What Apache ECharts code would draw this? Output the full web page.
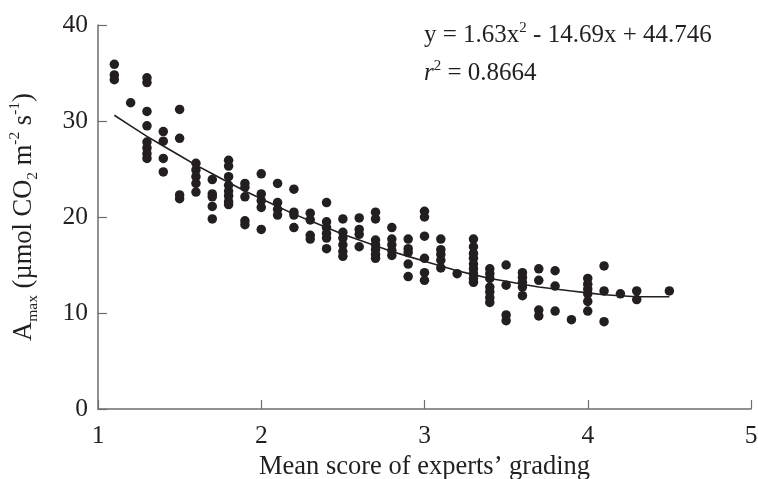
<!DOCTYPE html>
<html>
<head>
<meta charset="utf-8">
<script src="https://cdn.jsdelivr.net/npm/echarts@6/dist/echarts.min.js"></script>
<style>
html,body{margin:0;padding:0;background:#fff;}
#chart{width:758px;height:479px;}
</style>
</head>
<body>
<div id="chart"></div>
<script>
// Mean score of experts' grading (x) levels
var scoreLevels = [1.1, 1.2, 1.3, 1.4, 1.5, 1.6, 1.7, 1.8, 1.9, 2.0,
                   2.1, 2.2, 2.3, 2.4, 2.5, 2.6, 2.7, 2.8, 2.9, 3.0,
                   3.1, 3.2, 3.3, 3.4, 3.5, 3.6, 3.7, 3.8, 3.9, 4.0,
                   4.1, 4.2, 4.3, 4.5];
// Amax observations at each score level
var amaxByScore = [
  [35.9, 34.8, 34.3],
  [31.9],
  [34.5, 34.0, 31.0, 29.5, 27.8, 27.2, 26.6, 26.1],
  [28.9, 27.9, 26.1, 24.7],
  [31.2, 28.2, 22.3, 21.9],
  [25.6, 24.9, 24.2, 23.5, 22.6],
  [23.9, 22.4, 22.1, 21.1, 19.8],
  [25.9, 25.3, 24.2, 23.3, 22.7, 22.2, 21.6, 21.3],
  [23.5, 23.1, 22.1, 19.6, 19.2],
  [24.5, 22.4, 21.7, 21.0, 18.7],
  [23.5, 21.5, 20.8, 20.2],
  [22.9, 20.5, 20.2, 18.9],
  [20.4, 19.7, 18.1, 17.7],
  [21.5, 19.5, 18.9, 18.3, 17.8, 16.7],
  [19.8, 18.4, 17.8, 17.1, 16.4, 15.9],
  [19.9, 18.7, 18.2, 16.9],
  [20.5, 19.8, 17.6, 17.1, 16.6, 16.1, 15.7],
  [18.9, 17.7, 17.1, 16.5, 16.0],
  [17.7, 16.7, 16.3, 15.1, 13.8],
  [20.6, 20.0, 18.0, 15.7, 14.2, 13.4],
  [17.7, 16.6, 16.1, 15.5, 14.7],
  [14.1],
  [17.7, 16.9, 16.2, 15.7, 15.1, 14.6, 14.1, 13.6, 13.2],
  [14.6, 14.1, 13.6, 12.7, 12.2, 11.6, 11.1],
  [15.0, 12.9, 9.8, 9.2],
  [14.2, 13.7, 13.2, 12.7, 11.8],
  [14.6, 13.4, 10.3, 9.7],
  [14.4, 12.8, 10.2],
  [9.3],
  [13.6, 13.0, 12.5, 12.0, 11.2, 10.2],
  [14.9, 12.3, 9.1],
  [12.0],
  [12.3, 11.4],
  [12.3]
];
// Fitted curve
var fitX = [1.1, 1.2, 1.3, 1.4, 1.5, 1.6, 1.7, 1.8, 1.9, 2.0, 2.1, 2.2, 2.3, 2.4, 2.5,
            2.6, 2.7, 2.8, 2.9, 3.0, 3.1, 3.2, 3.3, 3.4, 3.5, 3.6, 3.7, 3.8, 3.9, 4.0,
            4.1, 4.2, 4.3, 4.4, 4.5];
var fitY = [30.6, 29.5, 28.4, 27.4, 26.4, 25.4, 24.5, 23.6, 22.7, 21.9, 21.1, 20.3, 19.6, 18.9, 18.2,
            17.6, 17.0, 16.4, 15.9, 15.4, 14.9, 14.4, 14.0, 13.6, 13.3, 13.0, 12.7, 12.5, 12.3, 12.1,
            11.9, 11.8, 11.7, 11.7, 11.7];
var xTicks = [1, 2, 3, 4, 5];
var yTicks = [0, 10, 20, 30, 40];

var points = [];
scoreLevels.forEach(function (s, i) {
  amaxByScore[i].forEach(function (v) { points.push([s, v]); });
});
var fitLine = fitX.map(function (x, i) { return [x, fitY[i]]; });

var FONT = 'Liberation Serif';
var TXT = '#231f20';
var chart = echarts.init(document.getElementById('chart'), null, {renderer: 'canvas'});
chart.setOption({
  animation: false,
  backgroundColor: '#ffffff',
  textStyle: {fontFamily: FONT},
  grid: {left: 98, right: 7, top: 25, bottom: 70, containLabel: false, outerBoundsMode: 'none'},
  xAxis: {
    type: 'value', min: xTicks[0], max: xTicks[xTicks.length - 1], interval: 1,
    name: 'Mean score of experts\u2019 grading',
    nameLocation: 'middle', nameGap: 43,
    nameTextStyle: {fontFamily: FONT, fontSize: 26.5, color: TXT},
    axisLine: {lineStyle: {color: '#6d6e71', width: 1.5}},
    axisTick: {inside: true, length: 9, lineStyle: {color: '#6d6e71', width: 1.2}},
    axisLabel: {fontFamily: FONT, fontSize: 25.5, color: TXT, margin: 14},
    splitLine: {show: false}
  },
  yAxis: {
    type: 'value', min: yTicks[0], max: yTicks[yTicks.length - 1], interval: 10,
    name: 'A{sub|max} (\u00b5mol CO{sub|2} m{sup|-2} s{sup|-1})',
    nameLocation: 'middle', nameGap: 59, nameRotate: 90,
    nameTextStyle: {
      fontFamily: FONT, fontSize: 26.5, color: TXT, lineHeight: 30, verticalAlign: 'bottom',
      rich: {
        sub: {fontFamily: FONT, fontSize: 15.5, color: TXT, verticalAlign: 'bottom', lineHeight: 30, padding: [0, 0, -2, 0]},
        sup: {fontFamily: FONT, fontSize: 15.5, color: TXT, verticalAlign: 'top', lineHeight: 30, padding: [-2, 0, 0, 0]}
      }
    },
    axisLine: {show: true, lineStyle: {color: '#6d6e71', width: 1.5}},
    axisTick: {show: true, inside: true, length: 9, lineStyle: {color: '#6d6e71', width: 1.2}},
    axisLabel: {fontFamily: FONT, fontSize: 25.5, color: TXT, margin: 10},
    splitLine: {show: false}
  },
  graphic: [
    {
      type: 'text', left: 424, top: 21,
      style: {
        text: 'y = 1.63x{sup|2} - 14.69x + 44.746',
        font: '25px "Liberation Serif"', fill: TXT,
        rich: {sup: {fontFamily: FONT, fontSize: 15, fill: TXT, verticalAlign: 'top', lineHeight: 29}}
      }
    },
    {
      type: 'text', left: 424, top: 59,
      style: {
        text: '{i|r}{sup|2} = 0.8664',
        font: '25px "Liberation Serif"', fill: TXT,
        rich: {
          i: {fontFamily: FONT, fontStyle: 'italic', fontSize: 25, fill: TXT},
          sup: {fontFamily: FONT, fontSize: 15, fill: TXT, verticalAlign: 'top', lineHeight: 29}
        }
      }
    }
  ],
  series: [
    {
      type: 'scatter', data: points, symbol: 'circle', symbolSize: 9.5,
      itemStyle: {color: '#231f20', opacity: 1}, z: 3
    },
    {
      type: 'line', data: fitLine, showSymbol: false, smooth: false,
      lineStyle: {color: '#231f20', width: 1.6}, z: 2
    }
  ]
});
</script>
</body>
</html>
